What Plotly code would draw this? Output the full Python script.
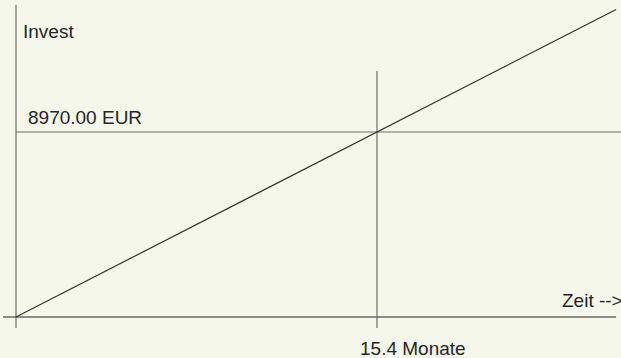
import plotly.graph_objects as go

# break-even values
invest_eur = 8970.00
break_even_months = 15.4
eur_per_month = invest_eur / break_even_months

# extents of the drawn lines (months / EUR)
line_end_month = 25.6
x_axis_span = [-0.55, 25.6]
y_axis_span = [-533, 15129]
vline_span = [-533, 11929]
hline_span = [0, 25.9]

x_range = [-0.683, 25.81]
y_range = [-1988, 15371]

bg = "#f4f7e9"

fig = go.Figure()

# y axis (grey)
fig.add_trace(go.Scatter(x=[0, 0], y=y_axis_span, mode="lines",
                         line=dict(color="#6e6e6e", width=1.2), hoverinfo="skip"))
# x axis (dark)
fig.add_trace(go.Scatter(x=x_axis_span, y=[0, 0], mode="lines",
                         line=dict(color="#222222", width=1.2), hoverinfo="skip"))
# invest level
fig.add_trace(go.Scatter(x=hline_span, y=[invest_eur, invest_eur], mode="lines",
                         line=dict(color="#6e6e6e", width=1.2), hoverinfo="skip"))
# break-even month
fig.add_trace(go.Scatter(x=[break_even_months, break_even_months], y=vline_span, mode="lines",
                         line=dict(color="#6e6e6e", width=1.2), hoverinfo="skip"))
# cumulative return
fig.add_trace(go.Scatter(x=[0, line_end_month], y=[0, line_end_month * eur_per_month], mode="lines",
                         line=dict(color="#333333", width=1.2), hoverinfo="skip"))

font = dict(family="Liberation Sans, Arial", size=19, color="#262626")
labels = [
    (0.2, 15371 - 31 * 48.49, "Invest"),
    (0.42, invest_eur + 15 * 48.49, "%.2f EUR" % invest_eur),
    (23.22, 17 * 48.49, "Zeit -->"),
    (break_even_months - 0.81, -31.5 * 48.49, "%.1f Monate" % break_even_months),
]
for x, y, t in labels:
    fig.add_annotation(x=x, y=y, text=t, showarrow=False, xanchor="left",
                       yanchor="middle", font=font)

fig.update_layout(
    width=621, height=358,
    margin=dict(l=0, r=0, t=0, b=0),
    paper_bgcolor=bg, plot_bgcolor=bg,
    showlegend=False,
    xaxis=dict(range=x_range, visible=False, fixedrange=True),
    yaxis=dict(range=y_range, visible=False, fixedrange=True),
)

fig.write_html("out.html", config={"displayModeBar": False},
               post_script="document.body.style.margin='0';document.body.style.overflow='hidden';")
